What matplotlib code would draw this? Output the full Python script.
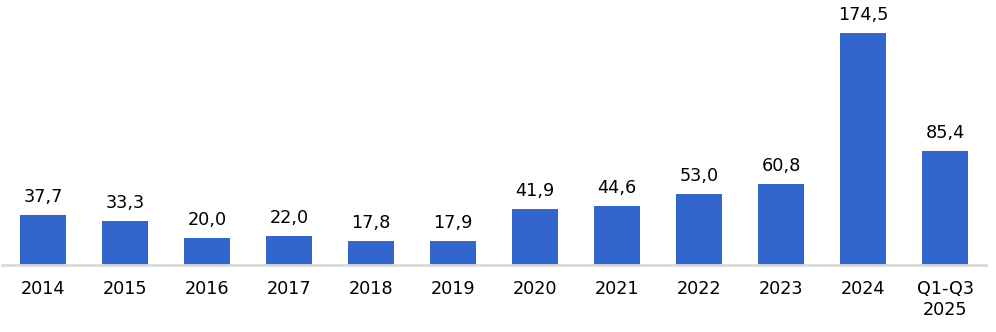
import matplotlib.pyplot as plt

# Values per period
categories = ["2014", "2015", "2016", "2017", "2018", "2019", "2020",
              "2021", "2022", "2023", "2024", "Q1-Q3\n2025"]
values = [37.7, 33.3, 20.0, 22.0, 17.8, 17.9, 41.9, 44.6, 53.0, 60.8, 174.5, 85.4]

BAR_COLOR = "#3366CC"
AXIS_COLOR = "#D9D9D9"

plt.rcParams["font.family"] = ["DejaVu Sans"]

fig = plt.figure(figsize=(9.96, 3.32), dpi=100)
ax = fig.add_axes([0.002, 0.202, 0.988, 0.798])

x = list(range(len(categories)))
bars = ax.bar(x, values, width=0.56, color=BAR_COLOR)

for rect, v in zip(bars, values):
    ax.annotate(f"{v:.1f}".replace(".", ","),
                xy=(rect.get_x() + rect.get_width() / 2, rect.get_height()),
                xytext=(0, 6.5), textcoords="offset points",
                ha="center", va="bottom", fontsize=12.7, color="#000000")

ax.set_xlim(-0.5, 11.5)
ax.set_ylim(0, 199)
ax.set_xticks(x)
ax.set_xticklabels(categories, fontsize=12.7, linespacing=1.25)
ax.tick_params(axis="x", length=0, pad=10.5)
ax.set_yticks([])

for side in ["top", "right", "left"]:
    ax.spines[side].set_visible(False)
ax.spines["bottom"].set_color(AXIS_COLOR)
ax.spines["bottom"].set_linewidth(2)

fig.savefig("out.png", dpi=100)
